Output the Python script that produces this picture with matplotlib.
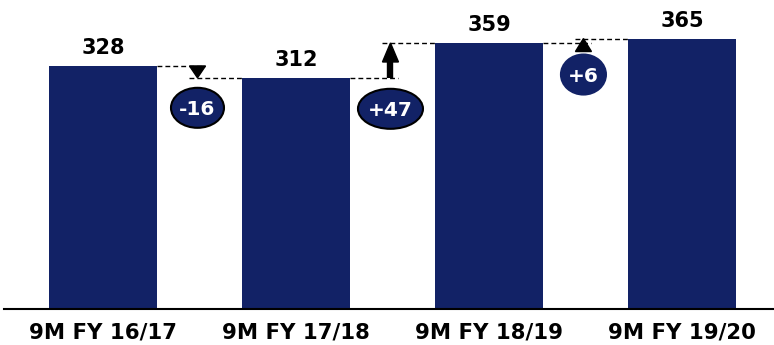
import matplotlib
matplotlib.use("Agg")
import matplotlib.pyplot as plt
from matplotlib.patches import Ellipse, Polygon

categories = ["9M FY 16/17", "9M FY 17/18", "9M FY 18/19", "9M FY 19/20"]
values = [328, 312, 359, 365]
deltas = ["-16", "+47", "+6"]

NAVY = "#122266"
plt.rcParams['font.family'] = ['DejaVu Sans']

fig = plt.figure(figsize=(7.74, 3.45), dpi=100)
ax = fig.add_axes([4/774, 36/345, 770/774, 309/345])
x = list(range(len(categories)))
bw = 0.56
ax.bar(x, values, width=bw, color=NAVY, zorder=2)
ax.set_xlim(-0.513, 3.477)
ax.set_ylim(0, 417)
for s in ['top', 'right', 'left']:
    ax.spines[s].set_visible(False)
ax.spines['bottom'].set_linewidth(1.5)
ax.set_yticks([])
ax.set_xticks(x)
ax.set_xticklabels(categories, fontsize=15.3, fontweight='bold')
ax.tick_params(axis='x', length=0, pad=10)

# px -> data helpers
def dx(px):
    return px / 193.0
def dy(px):
    return px / 0.741

for xi, v in zip(x, values):
    ax.text(xi, v + dy(8), str(v), ha='center', va='bottom', fontsize=15, fontweight='bold')

dash = dict(color='black', lw=1.0, ls=(0, (3.5, 2.2)), zorder=3)
head_h = [12, 19, 13]
for i in range(3):
    v0, v1 = values[i], values[i + 1]
    xr = x[i] + bw / 2
    xl = x[i + 1] - bw / 2
    xa = (xr + xl) / 2 - dx(2)
    ax.plot([xr, xa + dx(8)], [v0, v0], **dash)
    ax.plot([xa - dx(8), xl], [v1, v1], **dash)
    up = v1 > v0
    hw = dx(8)
    hh = dy(head_h[i])
    if not up:
        tri = [(xa - hw, v0), (xa + hw, v0), (xa, v1)]
    else:
        tri = [(xa - hw, v1 - hh), (xa + hw, v1 - hh), (xa, v1)]
        if v1 - v0 > 20:
            ax.plot([xa, xa], [v0, v1 - hh + dy(1)], color='black', lw=4.6, zorder=4,
                    solid_capstyle='butt')
    ax.add_patch(Polygon(tri, closed=True, color='black', zorder=4))
    if i == 0:
        ex, ey, ew, eh, ec = xa, v1 - dy(30), dx(53), dy(40), 'black'
    elif i == 1:
        ex, ey, ew, eh, ec = xa, v0 - dy(31), dx(65), dy(40), 'black'
    else:
        ex, ey, ew, eh, ec = xa, v1 - dy(36), dx(45), dy(40), NAVY
    ax.add_patch(Ellipse((ex, ey), ew, eh, facecolor=NAVY, edgecolor=ec,
                         lw=1.5, zorder=5))
    ax.text(ex, ey, deltas[i], ha='center', va='center_baseline', color='white',
            fontsize=14.5, fontweight='bold', zorder=6)

fig.savefig("out.png", dpi=100)
